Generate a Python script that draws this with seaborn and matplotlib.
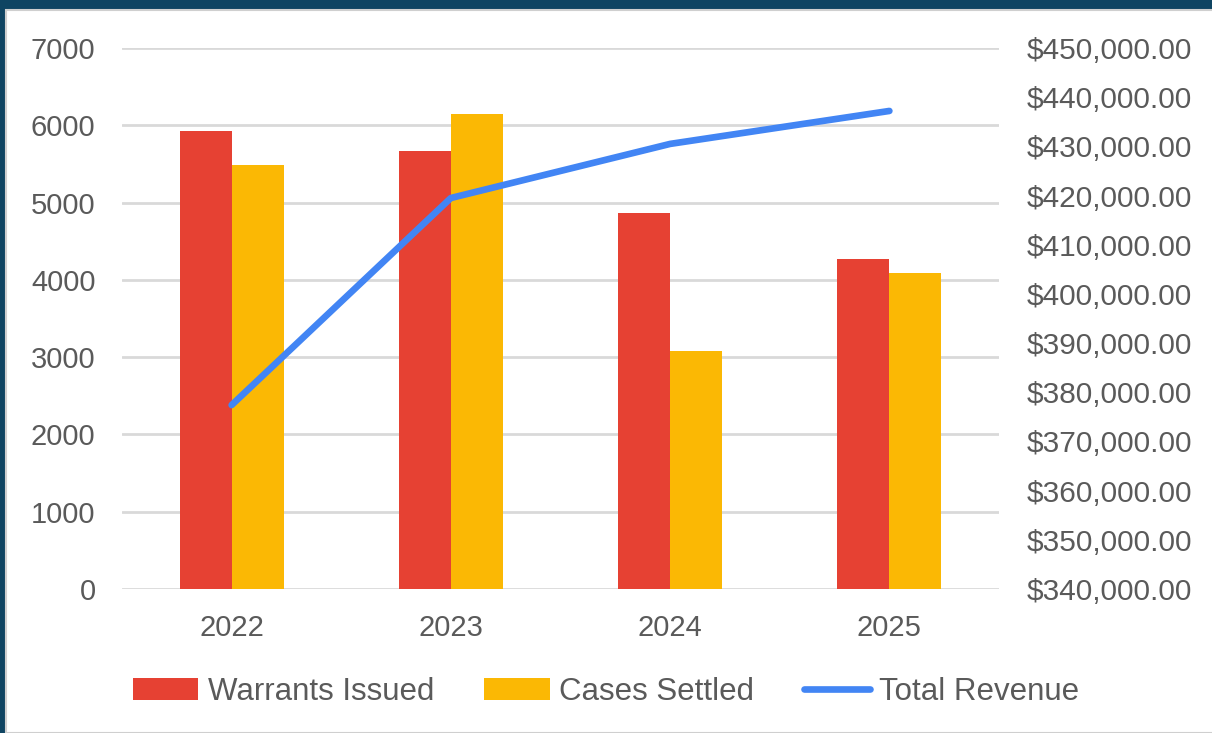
import pandas as pd
import matplotlib.pyplot as plt
import seaborn as sns
from matplotlib.patches import Patch, Rectangle
from matplotlib.lines import Line2D
from matplotlib.ticker import FuncFormatter, MultipleLocator

# values
years = ["2022", "2023", "2024", "2025"]
warrants_issued = [5930, 5670, 4860, 4270]
cases_settled = [5490, 6150, 3080, 4090]
total_revenue = [377400, 419500, 430500, 437200]

red = "#E64133"
yellow = "#FBB804"
blue = "#4285F4"
text_col = "#5A5A5A"
grid_col = "#D9D9D9"

sns.set_theme(style="white")
plt.rcParams["font.family"] = ["Liberation Sans", "DejaVu Sans"]

df = pd.DataFrame({
    "year": years * 2,
    "count": warrants_issued + cases_settled,
    "series": ["Warrants Issued"] * 4 + ["Cases Settled"] * 4,
})

fig = plt.figure(figsize=(12.12, 7.33), dpi=100)
fig.patch.set_facecolor("#0F4462")
# white card inside the dark frame
card = Rectangle((6 / 1212, 0), 1, 1 - 10 / 733, transform=fig.transFigure,
                 facecolor="white", edgecolor="#CFCFCF", linewidth=1.5, zorder=-5)
fig.patches.append(card)

ax = fig.add_axes([122 / 1212, 1 - 589 / 733, (999 - 122) / 1212, (589 - 48) / 733])
ax.set_facecolor("none")
sns.barplot(data=df, x="year", y="count", hue="series", order=years,
            palette=[red, yellow], width=0.475, gap=0, saturation=1,
            edgecolor="none", legend=False, ax=ax)
ax.set_xlim(-0.5, 3.5)
ax.set_ylim(0, 7000)
ax.yaxis.set_major_locator(MultipleLocator(1000))
ax.grid(axis="y", color=grid_col, linewidth=2)
ax.set_axisbelow(True)
ax.set_xlabel("")
ax.set_ylabel("")
for s in ax.spines.values():
    s.set_visible(False)
ax.tick_params(axis="both", length=0, labelsize=21, colors=text_col)
ax.tick_params(axis="y", pad=19)
ax.tick_params(axis="x", pad=18)

ax2 = ax.twinx()
sns.lineplot(x=[0, 1, 2, 3], y=total_revenue, color=blue, linewidth=4.8,
             solid_capstyle="round", ax=ax2)
ax2.set_ylim(340000, 450000)
ax2.yaxis.set_major_locator(MultipleLocator(10000))
ax2.yaxis.set_major_formatter(FuncFormatter(lambda v, p: f"${v:,.2f}"))
for s in ax2.spines.values():
    s.set_visible(False)
ax2.tick_params(axis="y", length=0, labelsize=21.5, colors=text_col, pad=20)
ax2.grid(False)

handles = [
    Patch(facecolor=red, edgecolor="none", label="Warrants Issued"),
    Patch(facecolor=yellow, edgecolor="none", label="Cases Settled"),
    Line2D([0], [0], color=blue, linewidth=4.8, solid_capstyle="round", label="Total Revenue"),
]
fig.legend(handles=handles, loc="center", bbox_to_anchor=(0.5, 1 - 692 / 733), ncol=3,
           frameon=False, fontsize=22.5, labelcolor=text_col, handlelength=2.1,
           handletextpad=0.3, columnspacing=1.6)

fig.savefig("out.png", dpi=100, facecolor=fig.get_facecolor())
